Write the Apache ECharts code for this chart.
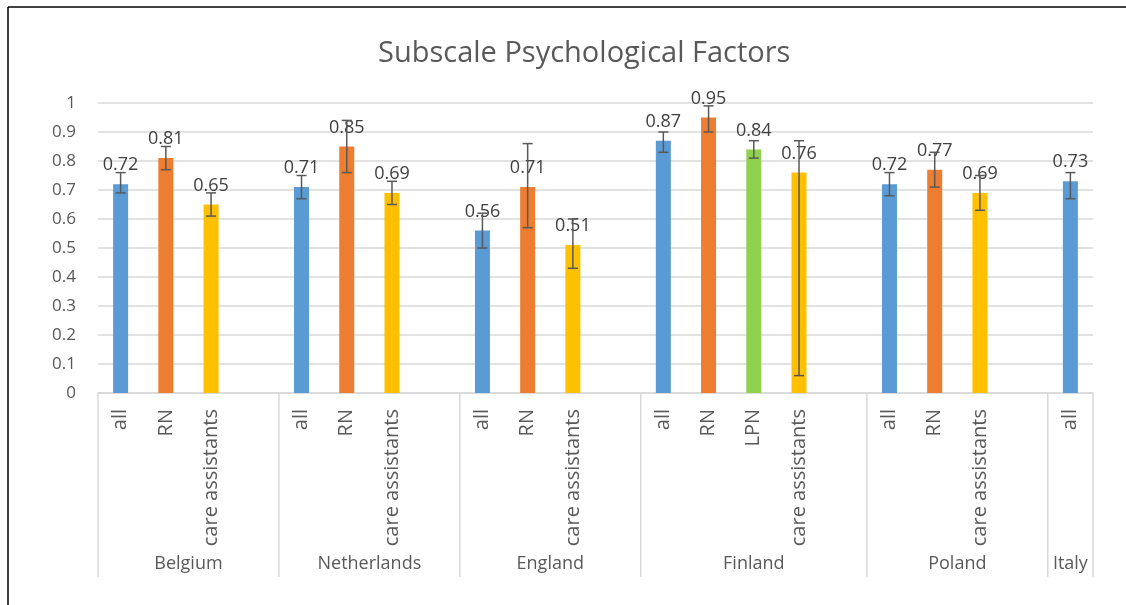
<!DOCTYPE html>
<html>
<head>
<meta charset="utf-8">
<script src="https://cdn.jsdelivr.net/npm/echarts@6/dist/echarts.min.js"></script>
<style>
  html, body { margin: 0; padding: 0; background: #fff; overflow: hidden; }
  #chart { width: 1126px; height: 605px; }
</style>
</head>
<body>
<div id="chart"></div>
<script>
// one slot per bar; an empty slot closes every country block, like the Excel sheet
const categories = [
    'all', 'RN', 'care assistants', '',
    'all', 'RN', 'care assistants', '',
    'all', 'RN', 'care assistants', '',
    'all', 'RN', 'LPN', 'care assistants', '',
    'all', 'RN', 'care assistants', '',
    'all'
];
const groupNames = ['Belgium', 'Netherlands', 'England', 'Finland', 'Poland', 'Italy'];
const groupSizes = [4, 4, 4, 5, 4, 1];

const values = [
    0.72, 0.81, 0.65, null,
    0.71, 0.85, 0.69, null,
    0.56, 0.71, 0.51, null,
    0.87, 0.95, 0.84, 0.76, null,
    0.72, 0.77, 0.69, null,
    0.73
];
const errLow = [
    0.69, 0.77, 0.61, null,
    0.67, 0.76, 0.65, null,
    0.50, 0.57, 0.43, null,
    0.83, 0.90, 0.81, 0.06, null,
    0.68, 0.71, 0.63, null,
    0.67
];
const errHigh = [
    0.76, 0.85, 0.69, null,
    0.75, 0.94, 0.73, null,
    0.62, 0.86, 0.60, null,
    0.90, 0.99, 0.87, 0.87, null,
    0.76, 0.83, 0.75, null,
    0.76
];
const yTicks = ['0', '0.1', '0.2', '0.3', '0.4', '0.5', '0.6', '0.7', '0.8', '0.9', '1'];

const roleColors = {
    'all': '#5B9BD5',
    'RN': '#ED7D31',
    'LPN': '#92D050',
    'care assistants': '#FFC000'
};

const FONT = 'Open Sans';
const GRID_GREY = '#D9D9D9';

const barData = values.map((v, i) => v == null ? '-' : {
    value: v,
    itemStyle: { color: roleColors[categories[i]] }
});

const errData = [];
values.forEach((v, i) => {
    if (v != null) errData.push([i, errLow[i], errHigh[i]]);
});

const groupData = [];
let pos = 0;
groupSizes.forEach(n => {
    groupData.push([pos, pos + n - 1, 0]);
    pos += n;
});

const chart = echarts.init(document.getElementById('chart'));

chart.setOption({
    backgroundColor: '#fff',
    animation: false,
    title: {
        text: 'Subscale Psychological Factors',
        left: 373,
        top: 34,
        textStyle: {
            fontFamily: FONT,
            fontSize: 29,
            fontWeight: 'normal',
            color: '#595959'
        }
    },
    // chart border: only the top and left edges fall inside the picture
    graphic: [
        {
            type: 'line',
            shape: { x1: 8, y1: 7, x2: 1140, y2: 7 },
            style: { stroke: '#000', lineWidth: 1.5 },
            silent: true
        },
        {
            type: 'line',
            shape: { x1: 8, y1: 7, x2: 8, y2: 620 },
            style: { stroke: '#000', lineWidth: 1.5 },
            silent: true
        }
    ],
    grid: { left: 98, right: 33, top: 103, bottom: 212 },
    xAxis: {
        type: 'category',
        data: categories,
        axisLine: { lineStyle: { color: GRID_GREY, width: 1.5 } },
        axisTick: { show: false },
        axisLabel: {
            interval: 0,
            rotate: 90,
            margin: 16,
            fontFamily: FONT,
            fontSize: 20,
            color: '#595959'
        }
    },
    yAxis: {
        type: 'value',
        min: 0,
        max: 1,
        interval: 0.1,
        axisLine: { show: false },
        axisTick: { show: false },
        splitLine: { lineStyle: { color: GRID_GREY, width: 1.5 } },
        axisLabel: {
            margin: 22,
            fontFamily: FONT,
            fontSize: 17,
            color: '#595959',
            formatter: v => yTicks[Math.round(v * 10)]
        }
    },
    series: [
        {
            type: 'bar',
            data: barData,
            barWidth: 15,
            label: {
                show: true,
                position: 'top',
                distance: 10,
                fontFamily: FONT,
                fontSize: 18,
                color: '#404040',
                formatter: p => p.value.toFixed(2)
            },
            z: 2
        },
        {
            type: 'custom',
            data: errData,
            encode: { x: 0, y: [1, 2] },
            z: 3,
            renderItem: (params, api) => {
                const lo = api.coord([api.value(0), api.value(1)]);
                const hi = api.coord([api.value(0), api.value(2)]);
                const cap = 5;
                const st = { stroke: '#595959', lineWidth: 1.5 };
                return {
                    type: 'group',
                    children: [
                        { type: 'line', shape: { x1: lo[0], y1: lo[1], x2: hi[0], y2: hi[1] }, style: st },
                        { type: 'line', shape: { x1: lo[0] - cap, y1: lo[1], x2: lo[0] + cap, y2: lo[1] }, style: st },
                        { type: 'line', shape: { x1: hi[0] - cap, y1: hi[1], x2: hi[0] + cap, y2: hi[1] }, style: st }
                    ]
                };
            }
        },
        {
            // second level of the category axis: country names and dividers
            type: 'custom',
            data: groupData,
            encode: { x: 0, y: 2 },
            clip: false,
            silent: true,
            renderItem: (params, api) => {
                const band = api.size([1, 0])[0];
                const x0 = api.coord([api.value(0), 0])[0] - band / 2;
                const x1 = api.coord([api.value(1), 0])[0] + band / 2;
                const y0 = api.coord([api.value(0), 0])[1];
                const st = { stroke: GRID_GREY, lineWidth: 1.5 };
                const children = [
                    { type: 'line', shape: { x1: x0, y1: y0, x2: x0, y2: y0 + 184 }, style: st },
                    {
                        type: 'text',
                        x: (x0 + x1) / 2,
                        y: y0 + 171,
                        style: {
                            text: groupNames[params.dataIndex],
                            fill: '#595959',
                            font: '18px "' + FONT + '"',
                            align: 'center',
                            verticalAlign: 'middle'
                        }
                    }
                ];
                if (params.dataIndex === groupNames.length - 1) {
                    children.push({ type: 'line', shape: { x1: x1, y1: y0, x2: x1, y2: y0 + 184 }, style: st });
                }
                return { type: 'group', children };
            }
        }
    ]
});
</script>
</body>
</html>
